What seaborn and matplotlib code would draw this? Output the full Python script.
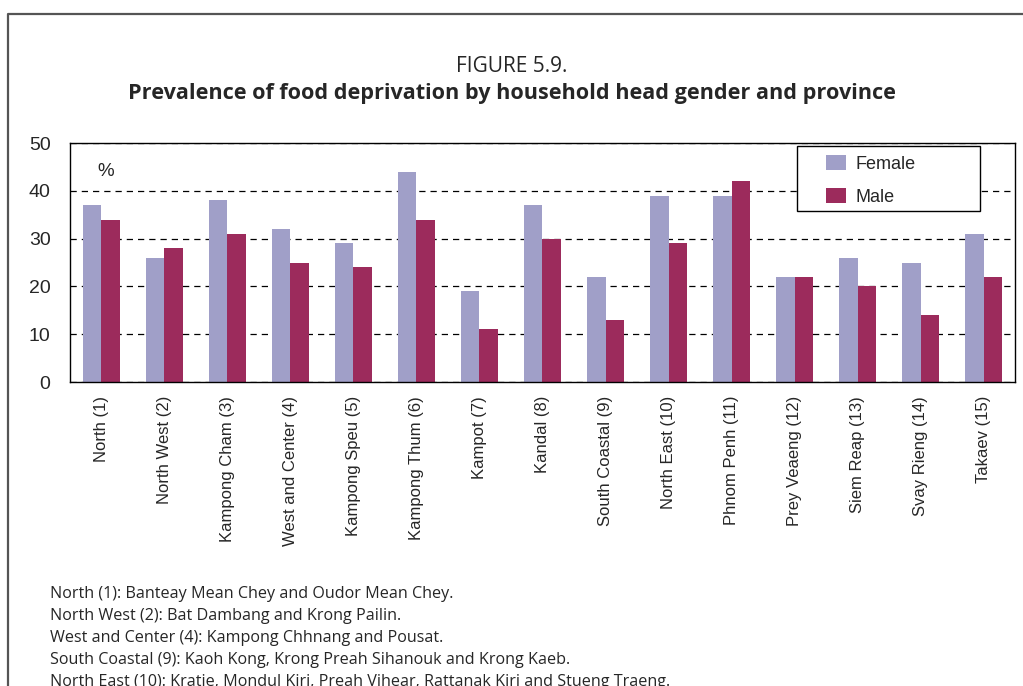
import matplotlib
matplotlib.use("Agg")
import matplotlib.pyplot as plt
import seaborn as sns
import pandas as pd
from matplotlib.lines import Line2D
from matplotlib.patches import Rectangle

provinces = ["North (1)", "North West (2)", "Kampong Cham (3)", "West and Center (4)",
             "Kampong Speu (5)", "Kampong Thum (6)", "Kampot (7)", "Kandal (8)",
             "South Coastal (9)", "North East (10)", "Phnom Penh (11)", "Prey Veaeng (12)",
             "Siem Reap (13)", "Svay Rieng (14)", "Takaev (15)"]
female = [37, 26, 38, 32, 29, 44, 19, 37, 22, 39, 39, 22, 26, 25, 31]
male = [34, 28, 31, 25, 24, 34, 11, 30, 13, 29, 42, 22, 20, 14, 22]
y_ticks = [0, 10, 20, 30, 40, 50]
notes = ["North (1): Banteay Mean Chey and Oudor Mean Chey.",
         "North West (2): Bat Dambang and Krong Pailin.",
         "West and Center (4): Kampong Chhnang and Pousat.",
         "South Coastal (9): Kaoh Kong, Krong Preah Sihanouk and Krong Kaeb.",
         "North East (10): Kratie, Mondul Kiri, Preah Vihear, Rattanak Kiri and Stueng Traeng."]

df = pd.DataFrame({"Province": provinces * 2,
                   "Value": female + male,
                   "Gender": ["Female"] * len(provinces) + ["Male"] * len(provinces)})

sns.set_style("white")
plt.rcParams["font.family"] = ["Liberation Sans", "DejaVu Sans"]

fig = plt.figure(figsize=(10.23, 6.86), dpi=100)
ax = fig.add_axes([0.0684, 0.4431, 0.9238, 0.3484])

sns.barplot(data=df, x="Province", y="Value", hue="Gender", ax=ax, width=0.6,
            palette={"Female": "#a09fc8", "Male": "#9c2b5c"}, saturation=1, dodge=True,
            linewidth=0)

ax.set_xlim(-0.5, len(provinces) - 0.5)
ax.set_ylim(0, 50)
ax.set_yticks(y_ticks)
ax.set_xlabel("")
ax.set_ylabel("")
ax.yaxis.grid(True, linestyle=(0, (5, 4)), color="black", linewidth=0.9)
ax.set_axisbelow(True)
for s in ax.spines.values():
    s.set_color("black")
    s.set_linewidth(1.0)

ax.tick_params(axis="y", direction="in", length=8, width=1, labelsize=14, pad=14, color="black")
ax.tick_params(axis="x", which="major", length=0, labelsize=12, pad=10)
ax.set_xticks([i + 0.5 for i in range(len(provinces) - 1)], minor=True)
ax.tick_params(axis="x", which="minor", direction="in", length=6, width=1, color="black")
plt.setp(ax.get_xticklabels(), rotation=90)

ax.text(0.07, 44, "%", fontsize=13.5, ha="center", va="center")

# legend box drawn separately so the entries can sit inset like the original
ax.add_patch(Rectangle((0.769, 0.715), 0.194, 0.272, transform=ax.transAxes, fill=True,
                       facecolor="white", edgecolor="black", linewidth=1.0, zorder=4))
leg = ax.legend(loc="upper left", bbox_to_anchor=(0.80, 0.95), frameon=False,
                fontsize=13, handlelength=1.1, handleheight=0.9, borderpad=0,
                labelspacing=0.85, handletextpad=0.55, borderaxespad=0)
leg.set_zorder(5)

fig.text(0.5, 1 - 66 / 686, "FIGURE 5.9.", ha="center", va="center", fontsize=15,
         family=["Open Sans", "DejaVu Sans"])
fig.text(0.5, 1 - 93 / 686, "Prevalence of food deprivation by household head gender and province",
         ha="center", va="center", fontsize=15.6, fontweight="bold", family=["Open Sans", "DejaVu Sans"])

for i, n in enumerate(notes):
    fig.text(50 / 1023, 1 - (594 + 22 * i) / 686, n, ha="left", va="center", fontsize=11.6,
             family=["Open Sans", "DejaVu Sans"])

fig.add_artist(Line2D([8 / 1023, 8 / 1023, 1.0], [0, 1 - 14 / 686, 1 - 14 / 686],
                      transform=fig.transFigure, color="#555555", linewidth=1.6))

fig.savefig("out.png", dpi=100)
